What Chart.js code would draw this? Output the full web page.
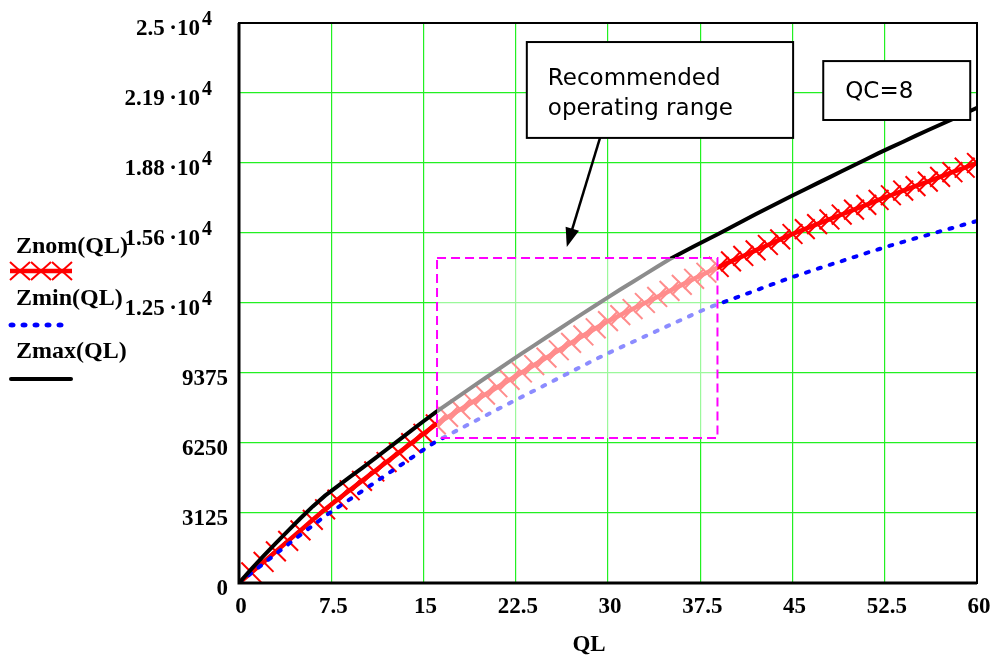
<!DOCTYPE html>
<html>
<head>
<meta charset="utf-8">
<script src="https://cdn.jsdelivr.net/npm/chart.js@4"></script>
<style>
  body { margin: 0; background: #fff; }
  canvas { display: block; }
</style>
</head>
<body>
<canvas id="myChart" width="997" height="658"></canvas>
<script>
// QL values (one point per unit)
const ql = [0, 1, 2, 3, 4, 5, 6, 7, 8, 9, 10, 11, 12, 13, 14, 15, 16, 17, 18, 19, 20,
  21, 22, 23, 24, 25, 26, 27, 28, 29, 30, 31, 32, 33, 34, 35, 36, 37, 38, 39, 40,
  41, 42, 43, 44, 45, 46, 47, 48, 49, 50, 51, 52, 53, 54, 55, 56, 57, 58, 59, 60];

const zmax = [0, 620, 1210, 1780, 2340, 2890, 3420, 3900, 4310, 4730, 5130, 5540, 5960, 6380, 6800, 7220,
  7630, 8010, 8390, 8770, 9140, 9510, 9880, 10250, 10610, 10970, 11330, 11690, 12050, 12400, 12750,
  13100, 13440, 13780, 14120, 14450, 14740, 15030, 15310, 15590, 15880, 16170, 16460, 16740, 17020, 17300,
  17570, 17840, 18110, 18380, 18650, 18920, 19190, 19450, 19700, 19960, 20210, 20460, 20710, 20960, 21210];

const znom = [0, 470, 940, 1410, 1880, 2350, 2820, 3290, 3720, 4140, 4560, 4980, 5400, 5820, 6240, 6660,
  7080, 7420, 7750, 8080, 8410, 8740, 9070, 9400, 9730, 10060, 10390, 10720, 11050, 11370, 11690,
  11960, 12230, 12500, 12770, 13040, 13310, 13580, 13850, 14110, 14360, 14600, 14850, 15090, 15340, 15580,
  15800, 16020, 16230, 16450, 16670, 16880, 17100, 17310, 17520, 17720, 17920, 18130, 18340, 18540, 18750];

const zmin = [0, 440, 870, 1300, 1730, 2150, 2570, 2990, 3360, 3730, 4100, 4470, 4840, 5210, 5580, 5950,
  6310, 6600, 6890, 7180, 7460, 7750, 8030, 8310, 8590, 8870, 9150, 9430, 9710, 9990, 10260,
  10510, 10760, 11010, 11260, 11510, 11760, 12010, 12250, 12460, 12660, 12860, 13060, 13260, 13460, 13660,
  13840, 14020, 14200, 14370, 14550, 14730, 14900, 15070, 15230, 15390, 15540, 15700, 15850, 16010, 16160];

const xTicks = [0, 7.5, 15, 22.5, 30, 37.5, 45, 52.5, 60];
const xTickLabels = ["0", "7.5", "15", "22.5", "30", "37.5", "45", "52.5", "60"];
const yTicks = [0, 3125, 6250, 9375, 12500, 15625, 18750, 21875, 25000];
const yTickLabels = ["0", "3125", "6250", "9375", "1.25·10^4", "1.56·10^4", "1.88·10^4", "2.19·10^4", "2.5·10^4"];

// recommended operating range (QL from..to, Z from..to)
const rangeQL = [16.1, 38.9];
const rangeZ = [6470, 14510];

const serifBold = "bold 23px 'Liberation Serif', 'Times New Roman', serif";
const sans = "23px 'DejaVu Sans', Verdana, sans-serif";

function pts(arr) {
  return ql.map((q, i) => ({ x: q, y: arr[i] }));
}

const drawings = {
  id: "drawings",
  afterDatasetsDraw(chart) {
    const { ctx, scales: { x, y } } = chart;
    const x0 = x.getPixelForValue(rangeQL[0]), x1 = x.getPixelForValue(rangeQL[1]);
    const y0 = y.getPixelForValue(rangeZ[1]), y1 = y.getPixelForValue(rangeZ[0]);
    ctx.save();
    ctx.fillStyle = "rgba(255,255,255,0.55)";
    ctx.fillRect(x0, y0, x1 - x0, y1 - y0);
    ctx.setLineDash([9, 5]);
    ctx.strokeStyle = "#ff00ff";
    ctx.lineWidth = 2;
    ctx.strokeRect(x0, y0, x1 - x0, y1 - y0);
    ctx.restore();
  },
  afterDraw(chart) {
    const { ctx, chartArea: a, scales: { x, y } } = chart;
    ctx.save();
    // frame
    ctx.strokeStyle = "#000";
    ctx.lineWidth = 2;
    ctx.strokeRect(a.left, a.top, a.width, a.height);
    ctx.lineWidth = 3;
    ctx.beginPath();
    ctx.moveTo(a.left, a.top);
    ctx.lineTo(a.left, a.bottom);
    ctx.lineTo(a.right, a.bottom);
    ctx.stroke();

    // tick labels
    ctx.fillStyle = "#000";
    ctx.font = serifBold;
    ctx.textAlign = "center";
    xTicks.forEach((t, i) => {
      ctx.fillText(xTickLabels[i], x.getPixelForValue(t) + 2, a.bottom + 30);
    });
    yTicks.forEach((t, i) => {
      const py = y.getPixelForValue(t);
      const parts = yTickLabels[i].split("^");
      ctx.font = serifBold;
      if (parts.length === 1) {
        ctx.textAlign = "right";
        ctx.fillText(parts[0], a.left - 11, py + 12);
      } else {
        const base = parts[0].replace("·", "\u2009·");
        ctx.textAlign = "right";
        ctx.fillText(base, a.left - 39, py + 12);
        ctx.textAlign = "left";
        ctx.font = "bold 20px 'Liberation Serif', 'Times New Roman', serif";
        ctx.fillText(parts[1], a.left - 37, py + 2);
      }
    });
    ctx.font = serifBold;
    ctx.textAlign = "center";
    ctx.fillText("QL", a.left + 350, a.bottom + 68);

    // legend
    ctx.textAlign = "left";
    ctx.font = "bold 24px 'Liberation Serif', 'Times New Roman', serif";
    ctx.fillText("Znom(QL)", 16, 253);
    ctx.fillText("Zmin(QL)", 16, 305);
    ctx.fillText("Zmax(QL)", 16, 358);
    ctx.strokeStyle = "#ff0000";
    ctx.lineWidth = 4.5;
    ctx.beginPath(); ctx.moveTo(10, 271); ctx.lineTo(72, 271); ctx.stroke();
    ctx.lineWidth = 2;
    [20, 41, 62].forEach(cx => {
      ctx.beginPath();
      ctx.moveTo(cx - 10, 262); ctx.lineTo(cx + 10, 280);
      ctx.moveTo(cx - 10, 280); ctx.lineTo(cx + 10, 262);
      ctx.stroke();
    });
    ctx.fillStyle = "#0000ff";
    [12, 24, 36, 48, 60].forEach(cx => {
      ctx.beginPath(); ctx.ellipse(cx, 325, 3.5, 2.5, 0, 0, Math.PI * 2); ctx.fill();
    });
    ctx.strokeStyle = "#000";
    ctx.lineWidth = 4;
    ctx.lineCap = "round";
    ctx.beginPath(); ctx.moveTo(11, 379); ctx.lineTo(71, 379); ctx.stroke();
    ctx.lineCap = "butt";

    // note boxes
    function note(q0, q1, zTop, zBot, lines, dx, dy, lh) {
      const bx0 = x.getPixelForValue(q0), bx1 = x.getPixelForValue(q1);
      const by0 = y.getPixelForValue(zTop), by1 = y.getPixelForValue(zBot);
      ctx.fillStyle = "#fff";
      ctx.fillRect(bx0, by0, bx1 - bx0, by1 - by0);
      ctx.strokeStyle = "#000";
      ctx.lineWidth = 2;
      ctx.strokeRect(bx0, by0, bx1 - bx0, by1 - by0);
      ctx.fillStyle = "#000";
      ctx.font = sans;
      ctx.textAlign = "left";
      lines.forEach((s, i) => ctx.fillText(s, bx0 + dx, by0 + dy + i * lh));
    }
    note(23.4, 45.05, 24150, 19870, ["Recommended", "operating range"], 21, 43, 30);
    note(47.5, 59.45, 23300, 20670, ["QC=8"], 22, 37, 0);

    // arrow
    const ax0 = x.getPixelForValue(29.35), ay0 = y.getPixelForValue(19870);
    const ax1 = x.getPixelForValue(26.65), ay1 = y.getPixelForValue(15000);
    const ang = Math.atan2(ay1 - ay0, ax1 - ax0);
    ctx.strokeStyle = "#000";
    ctx.lineWidth = 2.5;
    ctx.beginPath();
    ctx.moveTo(ax0, ay0);
    ctx.lineTo(ax1 - 14 * Math.cos(ang), ay1 - 14 * Math.sin(ang));
    ctx.stroke();
    ctx.fillStyle = "#000";
    ctx.beginPath();
    ctx.moveTo(ax1, ay1);
    ctx.lineTo(ax1 - 19 * Math.cos(ang) + 7 * Math.sin(ang), ay1 - 19 * Math.sin(ang) - 7 * Math.cos(ang));
    ctx.lineTo(ax1 - 19 * Math.cos(ang) - 7 * Math.sin(ang), ay1 - 19 * Math.sin(ang) + 7 * Math.cos(ang));
    ctx.closePath();
    ctx.fill();
    ctx.restore();
  }
};

const ctx = document.getElementById("myChart");
new Chart(ctx, {
  type: "line",
  data: {
    datasets: [
      {
        label: "Zmax(QL)",
        data: pts(zmax),
        borderColor: "#000",
        borderWidth: 4,
        pointRadius: 0,
        order: 0,
      },
      {
        label: "Zmin(QL)",
        data: pts(zmin),
        borderColor: "#0000ff",
        borderWidth: 4,
        borderDash: [3, 9.5],
        borderCapStyle: "round",
        pointRadius: 0,
        order: 1,
      },
      {
        label: "Znom(QL)",
        data: pts(znom),
        borderColor: "#ff0000",
        borderWidth: 4.5,
        pointStyle: "crossRot",
        pointRadius: 14,
        pointBorderWidth: 2,
        pointBorderColor: "#ff0000",
        order: 2,
      },
    ],
  },
  options: {
    responsive: false,
    animation: false,
    events: [],
    layout: { padding: { left: 239, top: 23, right: 20, bottom: 75 } },
    plugins: { legend: { display: false }, tooltip: { enabled: false } },
    scales: {
      x: {
        type: "linear",
        min: 0,
        max: 60,
        ticks: { display: false, stepSize: 7.5 },
        grid: { color: "#22f022", lineWidth: 1.2, drawTicks: false },
        border: { display: false },
      },
      y: {
        type: "linear",
        min: 0,
        max: 25000,
        ticks: { display: false, stepSize: 3125 },
        grid: { color: "#22f022", lineWidth: 1.2, drawTicks: false },
        border: { display: false },
      },
    },
  },
  plugins: [drawings],
});
</script>
</body>
</html>
